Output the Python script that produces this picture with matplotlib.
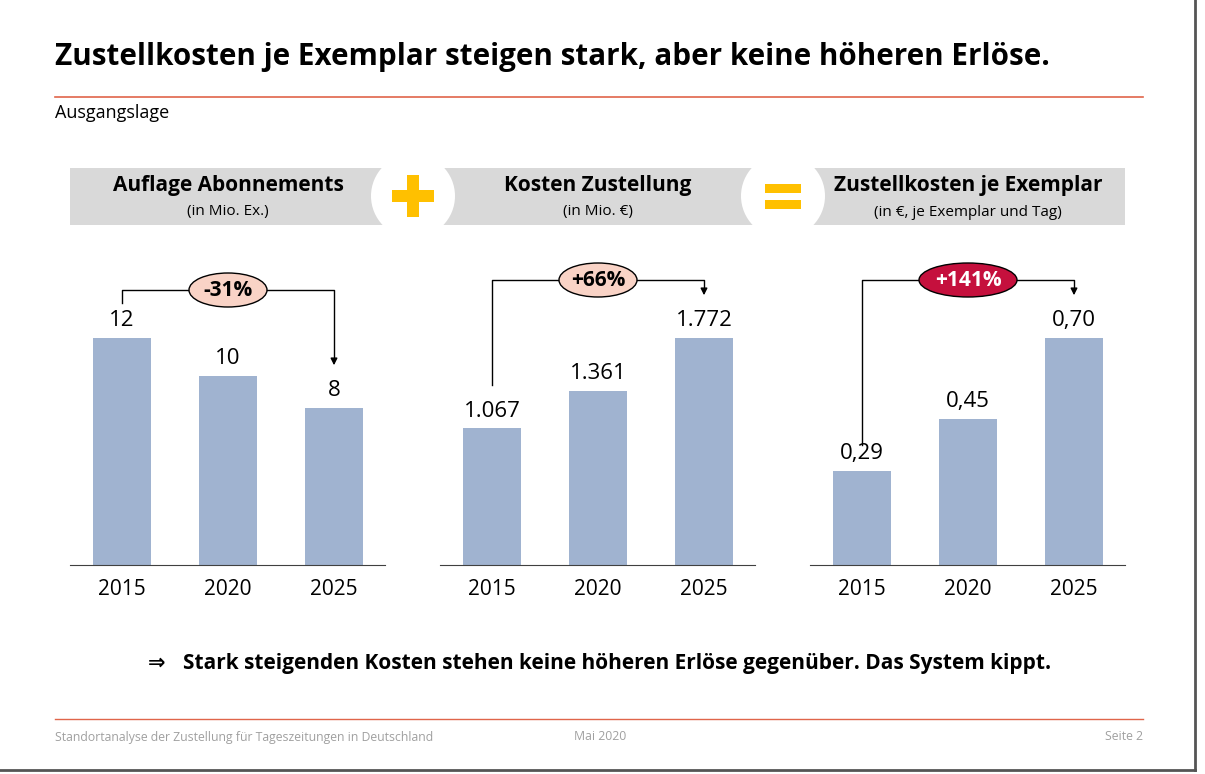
import matplotlib.pyplot as plt
from matplotlib.patches import Rectangle, Ellipse, Circle

years = ['2015', '2020', '2025']
auflage = [12, 10, 8.3]
kosten = [1067, 1361, 1772]
stueck = [0.29, 0.45, 0.70]
auflage_lbl = ['12', '10', '8']
kosten_lbl = ['1.067', '1.361', '1.772']
stueck_lbl = ['0,29', '0,45', '0,70']
changes = ['-31%', '+66%', '+141%']

FONT = 'Open Sans'
W, H = 1205, 774
fig = plt.figure(figsize=(W / 100, H / 100), dpi=100)
ov = fig.add_axes([0, 0, 1, 1])
ov.set_xlim(0, W)
ov.set_ylim(H, 0)
ov.axis('off')

# frame / title
ov.plot([1195, 1195], [0, 770], color='#555555', lw=2)
ov.plot([0, 1195], [770, 770], color='#555555', lw=2)
ov.text(55, 57, 'Zustellkosten je Exemplar steigen stark, aber keine höheren Erlöse.',
        fontsize=21.3, fontweight='bold', family=FONT, va='center')
ov.plot([55, 1143], [97, 97], color='#e0654a', lw=1.2)
ov.text(55, 113, 'Ausgangslage', fontsize=13, family=FONT, va='center')

# header band
ov.add_patch(Rectangle((70, 168), 1055, 57, color='#d9d9d9', lw=0))
for cx in (413, 783):
    ov.add_patch(Circle((cx, 196), 42, color='white', lw=0))
ov.add_patch(Rectangle((392, 190), 42, 12, color='#ffc000', lw=0))
ov.add_patch(Rectangle((407, 175), 12, 42, color='#ffc000', lw=0))
ov.add_patch(Rectangle((765, 184), 36, 9, color='#ffc000', lw=0))
ov.add_patch(Rectangle((765, 200), 36, 9, color='#ffc000', lw=0))
heads = [('Auflage Abonnements', '(in Mio. Ex.)', 228),
         ('Kosten Zustellung', '(in Mio. €)', 598),
         ('Zustellkosten je Exemplar', '(in €, je Exemplar und Tag)', 968)]
for t, s, cx in heads:
    ov.text(cx, 186, t, fontsize=15, fontweight='bold', family=FONT, ha='center', va='center')
    ov.text(cx, 212, s, fontsize=11, family=FONT, ha='center', va='center')

# bar panels
panels = [(auflage, auflage_lbl, 70), (kosten, kosten_lbl, 440), (stueck, stueck_lbl, 810)]
for vals, lbls, x0 in panels:
    ax = fig.add_axes([x0 / W, (H - 565) / H, 315 / W, 315 / H])
    ax.bar(range(3), vals, width=0.55, color='#a0b3d0')
    ax.set_xlim(-0.49, 2.48)
    ax.set_ylim(0, max(vals) * 315 / 227)
    for i, (v, l) in enumerate(zip(vals, lbls)):
        ax.text(i, v + max(vals) * 0.03, l, ha='center', va='bottom', fontsize=16, family=FONT)
    for sp in ['top', 'right', 'left']:
        ax.spines[sp].set_visible(False)
    ax.spines['bottom'].set_color('#404040')
    ax.set_yticks([])
    ax.set_xticks(range(3))
    ax.set_xticklabels(years, fontsize=15, family=FONT)
    ax.tick_params(axis='x', length=0, pad=10)
    ax.patch.set_alpha(0)

# change arrows
arrows = [(122, 303, 290, 334, 368, '#f9d3c6', 'black'),
          (492, 385, 280, 704, 298, '#f9d3c6', 'black'),
          (862, 445, 280, 1074, 298, '#c5103d', 'white')]
for (xa, ya, yt, xb, yb, fc, tc), lab in zip(arrows, changes):
    ov.plot([xa, xa, xb, xb], [ya, yt, yt, yb - 8], color='black', lw=1)
    ov.annotate('', xy=(xb, yb), xytext=(xb, yb - 10),
                arrowprops=dict(arrowstyle='-|>', color='black', lw=1))
    cx = (xa + xb) / 2
    ov.add_patch(Ellipse((cx, yt), 98 if lab == '+141%' else 78, 34, fc=fc, ec='black', lw=1, zorder=5))
    ov.text(cx, yt, lab, fontsize=15, fontweight='bold', color=tc, family=FONT,
            ha='center', va='center', zorder=6)

ov.text(148, 663, '⇒', fontsize=15, fontweight='bold', family='DejaVu Sans', va='center')
ov.text(183, 663, 'Stark steigenden Kosten stehen keine höheren Erlöse gegenüber. Das System kippt.',
        fontsize=15, fontweight='bold', family=FONT, va='center')

ov.plot([55, 1143], [719, 719], color='#e0654a', lw=1)
ov.text(55, 737, 'Standortanalyse der Zustellung für Tageszeitungen in Deutschland',
        fontsize=8.8, color='#a0a0a0', family=FONT, va='center')
ov.text(600, 737, 'Mai 2020', fontsize=8.8, color='#a0a0a0', family=FONT, va='center', ha='center')
ov.text(1143, 737, 'Seite 2', fontsize=8.8, color='#a0a0a0', family=FONT, va='center', ha='right')

fig.savefig('out.png', dpi=100)
